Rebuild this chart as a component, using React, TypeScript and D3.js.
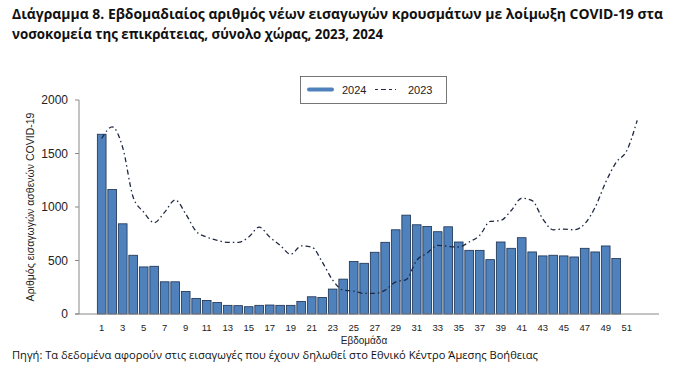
import React from "react";
import * as d3 from "d3";

const weeks = d3.range(1, 53);
const xTickWeeks = [1,3,5,7,9,11,13,15,17,19,21,23,25,27,29,31,33,35,37,39,41,43,45,47,49,51];
const yTicks = [0, 500, 1000, 1500, 2000];

const values2024 = [
  1680, 1163, 843, 549, 440, 446, 301, 301, 211, 146,
  127, 108, 81, 78, 68, 81, 84, 81, 81, 118,
  161, 155, 233, 326, 490, 474, 577, 670, 787, 924,
  834, 818, 769, 815, 673, 595, 595, 508, 673, 614,
  713, 580, 543, 549, 543, 533, 614, 580, 636, 518,
];

const values2023 = [
  1640, 1748, 1556, 1091, 952, 853, 952, 1066, 936, 772,
  719, 688, 670, 670, 719, 812, 719, 642, 558, 636,
  626, 487, 316, 223, 214, 192, 192, 223, 300, 322,
  502, 570, 642, 632, 626, 673, 735, 865, 874, 967,
  1082, 1060, 890, 787, 794, 787, 843, 998, 1231, 1417,
  1525, 1810,
];

const titleLines = [
  "Διάγραμμα 8. Εβδομαδιαίος αριθμός νέων εισαγωγών κρουσμάτων με λοίμωξη COVID-19 στα",
  "νοσοκομεία της επικράτειας, σύνολο χώρας, 2023, 2024",
];
const yLabel = "Αριθμός εισαγωγών ασθενών COVID-19";
const xLabel = "Εβδομάδα";
const source = "Πηγή: Τα δεδομένα αφορούν στις εισαγωγές που έχουν δηλωθεί στο Εθνικό Κέντρο Άμεσης Βοήθειας";
const seriesNames = ["2024", "2023"];

export default function App() {
  const W = 697, H = 373;
  const axisLeft = 79, axisRight = 659;
  const x = d3.scaleBand<number>()
    .domain(weeks)
    .range([96.45, 642.45])
    .paddingInner(0.17)
    .paddingOuter(0.085);
  const y = d3.scaleLinear().domain([0, 2000]).range([314, 100]);
  const cx = (w: number) => (x(w) as number) + x.bandwidth() / 2;

  const line = d3.line<number>()
    .x((_, i) => cx(weeks[i]))
    .y((d) => y(d))
    .curve(d3.curveMonotoneX);

  const font = "'Liberation Sans', Arial, sans-serif";
  const titleFont = "'Open Sans', 'Liberation Sans', sans-serif";

  return (
    <svg width={W} height={H} style={{ position: "absolute", left: 0, top: 0, background: "#fff" }}>
      <rect width={W} height={H} fill="#fff" />
      {/* title */}
      <text x={12} y={19} fontFamily={titleFont} fontWeight="bold" fontSize={14.5} fill="#111"
        textLength={651} lengthAdjust="spacingAndGlyphs">{titleLines[0]}</text>
      <text x={12} y={39} fontFamily={titleFont} fontWeight="bold" fontSize={14.5} fill="#111"
        textLength={371} lengthAdjust="spacingAndGlyphs">{titleLines[1]}</text>

      {/* bars */}
      {values2024.map((v, i) => (
        <rect key={i} x={x(weeks[i])} y={y(v)} width={x.bandwidth()} height={y(0) - y(v)}
          fill="#4f81bd" stroke="#1c2f4d" strokeWidth={0.8} />
      ))}

      {/* 2023 line */}
      <path d={line(values2023) || ""} fill="none" stroke="#1f2a44" strokeWidth={1.3}
        strokeDasharray="5,3,1.5,3" />

      {/* axes */}
      <line x1={axisLeft} x2={axisLeft} y1={y(2000)} y2={y(0)} stroke="#888" strokeWidth={1} />
      <line x1={axisLeft - 4} x2={axisRight} y1={y(0)} y2={y(0)} stroke="#888" strokeWidth={1} />
      {yTicks.map((t) => (
        <g key={t}>
          <line x1={axisLeft - 4} x2={axisLeft} y1={y(t)} y2={y(t)} stroke="#888" />
          <text x={68} y={y(t) + 4} textAnchor="end" fontFamily={font} fontSize={12} fill="#222">{t}</text>
        </g>
      ))}
      {xTickWeeks.map((w) => (
        <text key={w} x={cx(w)} y={331} textAnchor="middle" fontFamily={font} fontSize={9.5} fill="#222">{w}</text>
      ))}

      {/* axis labels */}
      <text x={364} y={344} textAnchor="middle" fontFamily={font} fontSize={10} fill="#222">{xLabel}</text>
      <text transform={`translate(34,207) rotate(-90)`} textAnchor="middle" fontFamily={font} fontSize={10.5} fill="#222">{yLabel}</text>

      {/* legend */}
      <rect x={300.5} y={76.5} width={146} height={27} fill="#fff" stroke="#555" strokeWidth={0.8} />
      <line x1={309} x2={332} y1={89.5} y2={89.5} stroke="#4f81bd" strokeWidth={4} strokeLinecap="round" />
      <text x={342} y={93.5} fontFamily={font} fontSize={11} fill="#222">{seriesNames[0]}</text>
      <line x1={375} x2={396} y1={89.5} y2={89.5} stroke="#1f2a44" strokeWidth={1.2} strokeDasharray="3,3,5,3,3" />
      <text x={408} y={93.5} fontFamily={font} fontSize={11} fill="#222">{seriesNames[1]}</text>

      {/* source */}
      <text x={12} y={359} fontFamily={titleFont} fontSize={10.5} fill="#111"
        textLength={526} lengthAdjust="spacingAndGlyphs">{source}</text>
    </svg>
  );
}
